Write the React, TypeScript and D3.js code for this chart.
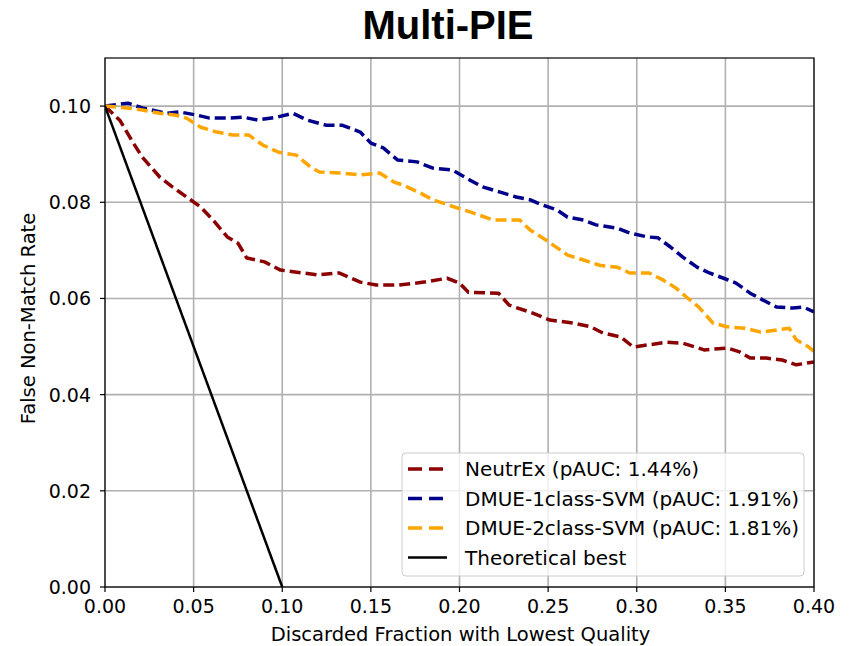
import React from "react";
import * as d3 from "d3";

const title = "Multi-PIE";
const xLabel = "Discarded Fraction with Lowest Quality";
const yLabel = "False Non-Match Rate";
const xTicks = [0, 0.05, 0.1, 0.15, 0.2, 0.25, 0.3, 0.35, 0.4];
const yTicks = [0, 0.02, 0.04, 0.06, 0.08, 0.1];

const neutrexX = [0, 0.0085, 0.016, 0.021, 0.031, 0.038, 0.046, 0.054, 0.061, 0.069, 0.075, 0.08, 0.09, 0.099, 0.12, 0.132, 0.144, 0.153, 0.166, 0.18, 0.193, 0.2, 0.205, 0.222, 0.228, 0.241, 0.251, 0.264, 0.274, 0.281, 0.291, 0.298, 0.317, 0.326, 0.338, 0.351, 0.358, 0.364, 0.373, 0.382, 0.39, 0.4];
const neutrexY = [0.1, 0.097, 0.0923, 0.0894, 0.0852, 0.0832, 0.0811, 0.079, 0.0763, 0.0728, 0.0715, 0.0684, 0.0676, 0.0659, 0.0649, 0.0653, 0.0634, 0.0628, 0.0628, 0.0634, 0.0642, 0.0632, 0.0613, 0.0611, 0.0586, 0.057, 0.0555, 0.0549, 0.0541, 0.0528, 0.052, 0.0499, 0.0509, 0.0507, 0.0493, 0.0497, 0.0489, 0.0476, 0.0476, 0.0472, 0.0462, 0.0468];

const svm1X = [0, 0.013, 0.021, 0.035, 0.042, 0.052, 0.059, 0.069, 0.078, 0.086, 0.097, 0.106, 0.114, 0.125, 0.134, 0.144, 0.15, 0.157, 0.165, 0.176, 0.185, 0.196, 0.206, 0.213, 0.223, 0.232, 0.24, 0.247, 0.255, 0.261, 0.27, 0.277, 0.289, 0.296, 0.306, 0.312, 0.319, 0.326, 0.334, 0.341, 0.349, 0.356, 0.364, 0.371, 0.379, 0.388, 0.394, 0.4];
const svm1Y = [0.1, 0.1006, 0.0996, 0.0985, 0.0988, 0.0981, 0.0975, 0.0975, 0.0977, 0.0971, 0.0977, 0.0985, 0.0971, 0.096, 0.096, 0.0946, 0.0923, 0.0913, 0.0888, 0.0884, 0.0871, 0.0867, 0.0846, 0.0832, 0.0821, 0.0811, 0.0805, 0.0794, 0.0784, 0.0769, 0.0763, 0.0753, 0.0746, 0.0736, 0.0728, 0.0726, 0.0707, 0.0686, 0.0665, 0.0653, 0.0642, 0.0632, 0.0611, 0.0597, 0.0582, 0.058, 0.0582, 0.0572];

const svm2X = [0, 0.0125, 0.021, 0.031, 0.04, 0.046, 0.054, 0.063, 0.072, 0.081, 0.089, 0.098, 0.108, 0.116, 0.121, 0.133, 0.144, 0.155, 0.163, 0.168, 0.178, 0.185, 0.199, 0.206, 0.219, 0.234, 0.24, 0.249, 0.261, 0.27, 0.279, 0.289, 0.296, 0.307, 0.315, 0.322, 0.328, 0.335, 0.343, 0.351, 0.361, 0.37, 0.378, 0.386, 0.39, 0.397, 0.4];
const svm2Y = [0.1, 0.0996, 0.0992, 0.0985, 0.0981, 0.0975, 0.0956, 0.0946, 0.094, 0.094, 0.0919, 0.0904, 0.0898, 0.0873, 0.0863, 0.0861, 0.0857, 0.0861, 0.0842, 0.0836, 0.0819, 0.0805, 0.0788, 0.078, 0.0763, 0.0763, 0.0742, 0.0721, 0.069, 0.068, 0.0669, 0.0665, 0.0653, 0.0653, 0.0638, 0.0622, 0.0603, 0.0582, 0.0549, 0.0541, 0.0538, 0.053, 0.0534, 0.0538, 0.0514, 0.0499, 0.049];

const bestX = [0, 0.1];
const bestY = [0.1, 0];

const seriesNames = ["NeutrEx (pAUC: 1.44%)", "DMUE-1class-SVM (pAUC: 1.91%)", "DMUE-2class-SVM (pAUC: 1.81%)", "Theoretical best"];
const seriesColors = ["#8b0000", "#00008b", "#ffa500", "#000000"];

const W = 852, H = 646;
const left = 105, right = 814, top = 58, bottom = 587;
const font = "'DejaVu Sans', sans-serif";

export default function App() {
  const x = d3.scaleLinear().domain([0, 0.4]).range([left, right]);
  const y = d3.scaleLinear().domain([0, 0.11]).range([bottom, top]);
  const line = d3.line<[number, number]>().x(d => x(d[0])).y(d => y(d[1]));
  const zip = (a: number[], b: number[]) => a.map((v, i) => [v, b[i]] as [number, number]);
  const series = [
    zip(neutrexX, neutrexY),
    zip(svm1X, svm1Y),
    zip(svm2X, svm2Y),
    zip(bestX, bestY),
  ];
  const legX = 402, legY = 453, legW = 402, legH = 123;
  return (
    <svg width={W} height={H} style={{ position: "absolute", left: 0, top: 0, background: "#fff" }}>
      <defs>
        <clipPath id="plot"><rect x={left} y={top} width={right - left} height={bottom - top} /></clipPath>
      </defs>
      <text x={448} y={39} textAnchor="middle" fontFamily="'Liberation Sans Narrow', 'Arial Narrow', 'Liberation Sans', sans-serif" fontWeight="bold" fontSize={40}>{title}</text>
      {xTicks.map(t => (
        <line key={"gx" + t} x1={x(t)} x2={x(t)} y1={top} y2={bottom} stroke="#b0b0b0" strokeWidth={1.6} />
      ))}
      {yTicks.map(t => (
        <line key={"gy" + t} x1={left} x2={right} y1={y(t)} y2={y(t)} stroke="#b0b0b0" strokeWidth={1.6} />
      ))}
      <g clipPath="url(#plot)">
        {series.map((s, i) => (
          <path key={i} d={line(s) || ""} fill="none" stroke={seriesColors[i]} strokeWidth={i === 3 ? 2.5 : 3.5}
            strokeDasharray={i === 3 ? undefined : "11,5"} strokeLinejoin="round" />
        ))}
      </g>
      <rect x={left} y={top} width={right - left} height={bottom - top} fill="none" stroke="#000" strokeWidth={1.2} />
      {xTicks.map(t => (
        <g key={"tx" + t}>
          <line x1={x(t)} x2={x(t)} y1={bottom} y2={bottom + 5} stroke="#000" strokeWidth={1.2} />
          <text x={x(t)} y={bottom + 26} textAnchor="middle" fontFamily={font} fontSize={19}>{t.toFixed(2)}</text>
        </g>
      ))}
      {yTicks.map(t => (
        <g key={"ty" + t}>
          <line x1={left - 5} x2={left} y1={y(t)} y2={y(t)} stroke="#000" strokeWidth={1.2} />
          <text x={left - 14} y={y(t) + 7} textAnchor="end" fontFamily={font} fontSize={19}>{t.toFixed(2)}</text>
        </g>
      ))}
      <text x={(left + right) / 2 + 1} y={641} textAnchor="middle" fontFamily={font} fontSize={19.5}>{xLabel}</text>
      <text transform={`translate(35,${(top + bottom) / 2 - 4}) rotate(-90)`} textAnchor="middle" fontFamily={font} fontSize={19.5}>{yLabel}</text>
      <rect x={legX} y={legY} width={legW} height={legH} rx={4} fill="#fff" fillOpacity={0.8} stroke="#cccccc" strokeWidth={1} />
      {seriesNames.map((n, i) => (
        <g key={n}>
          <line x1={legX + 6} x2={legX + 45} y1={legY + 16 + i * 29.5} y2={legY + 16 + i * 29.5} stroke={seriesColors[i]}
            strokeWidth={i === 3 ? 2.5 : 3.5} strokeDasharray={i === 3 ? undefined : "14,7"} />
          <text x={legX + 63} y={legY + 23 + i * 29.5} fontFamily={font} fontSize={20}>{n}</text>
        </g>
      ))}
    </svg>
  );
}
